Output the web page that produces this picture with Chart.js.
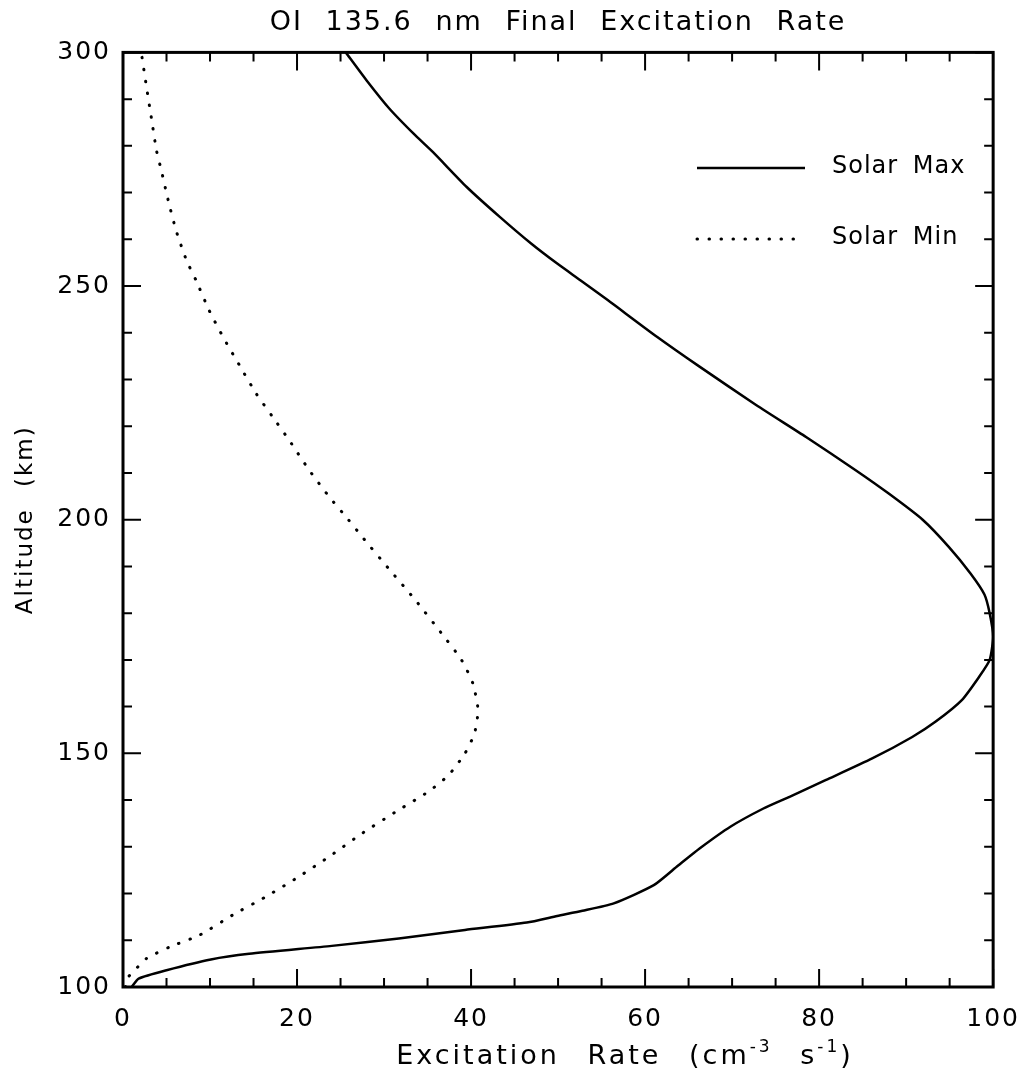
<!DOCTYPE html>
<html>
<head>
<meta charset="utf-8">
<script src="https://cdn.jsdelivr.net/npm/chart.js@4.4.1/dist/chart.umd.min.js"></script>
<style>
  body { margin: 0; background: #fff; }
  canvas { display: block; }
</style>
</head>
<body>
<canvas id="rate" width="1034" height="1073"></canvas>
<script>
// OI 135.6 nm final excitation rate vs altitude, solar max / solar min

var maxAltitude = [100, 101.8, 103.6, 105.9, 107.1, 108.8, 110.4, 112.2, 113.8, 115.2,
  116.3, 117.9, 121.8, 126, 129.7, 134.3, 138.2, 140.7, 144.3, 148.9,
  153.5, 156.8, 161.4, 166.4, 170, 175, 180, 184, 188.5, 194.2,
  200, 205.6, 210.6, 217.7, 224.5, 232.7, 239.1, 247, 251.2, 254.8,
  259.1, 264.8, 271.2, 278.7, 282.6, 288, 294, 300];
var maxRate = [1.0, 1.8, 5.0, 10.1, 14.5, 24.0, 31.7, 39.3, 46.4, 49.9,
  52.8, 56.4, 61.0, 63.8, 66.3, 69.8, 73.6, 76.6, 80.8, 86.1,
  90.7, 93.4, 96.4, 98.4, 99.6, 100, 99.6, 99.0, 97.4, 94.9,
  91.9, 88.0, 84.2, 78.5, 72.8, 66.3, 61.4, 55.7, 52.6, 49.9,
  46.9, 43.3, 39.5, 35.6, 33.4, 30.6, 28.0, 25.6];

var minAltitude = [100, 101.9, 103.3, 106.1, 108.6, 111.1, 115.4, 119.3, 123.6, 127.9,
  132.9, 137.9, 141.8, 145.3, 150, 154.3, 159.3, 165, 170, 175.7,
  182.8, 189.6, 196.3, 200, 204.9, 210.6, 217, 222, 227, 233,
  239.1, 244.8, 251.2, 255.5, 261.9, 268.3, 274.8, 279, 285.5, 292.6, 300];
var minRate = [0.3, 0.5, 1.2, 2.7, 5.4, 8.8, 12.6, 16.4, 20.2, 23.7,
  27.5, 31.7, 35.1, 37.4, 39.3, 40.4, 40.8, 40.2, 38.9, 36.6,
  33.6, 30.5, 27.5, 25.9, 23.7, 21.4, 19.1, 17.2, 15.3, 13.4,
  11.5, 9.9, 8.4, 7.3, 6.1, 5.2, 4.4, 3.85, 3.3, 2.7, 2.1];

var xMajor = 20, xMinor = 5;
var yMajor = 50, yMinor = 10;

var FONT = 'DejaVu Sans';

function toPoints(xs, ys) {
  return xs.map(function (x, i) { return { x: x, y: ys[i] }; });
}

// box around the plot with inward ticks on all four sides
var frameTicks = {
  id: 'frameTicks',
  beforeDraw: function (chart) {
    chart.ctx.letterSpacing = '2px';
    chart.ctx.wordSpacing = '12px';
  },
  afterDatasetsDraw: function (chart) {
    var ctx = chart.ctx, a = chart.chartArea;
    var sx = chart.scales.x, sy = chart.scales.y;
    var v, p, len;
    ctx.save();
    ctx.strokeStyle = '#000';
    ctx.lineWidth = 3;
    ctx.strokeRect(a.left, a.top, a.right - a.left, a.bottom - a.top);
    ctx.lineWidth = 2;
    ctx.beginPath();
    for (v = sx.min; v <= sx.max; v += xMinor) {
      p = sx.getPixelForValue(v);
      len = v % xMajor === 0 ? 18 : 9;
      ctx.moveTo(p, a.bottom); ctx.lineTo(p, a.bottom - len);
      ctx.moveTo(p, a.top); ctx.lineTo(p, a.top + len);
    }
    for (v = sy.min; v <= sy.max; v += yMinor) {
      p = sy.getPixelForValue(v);
      len = v % yMajor === 0 ? 18 : 9;
      ctx.moveTo(a.left, p); ctx.lineTo(a.left + len, p);
      ctx.moveTo(a.right, p); ctx.lineTo(a.right - len, p);
    }
    ctx.stroke();
    ctx.restore();
  }
};

// legend inside the plot and the x title with superscripts
var labelsPlugin = {
  id: 'labelsPlugin',
  afterDraw: function (chart) {
    var ctx = chart.ctx;
    ctx.save();
    ctx.fillStyle = '#000';
    ctx.strokeStyle = '#000';
    ctx.textBaseline = 'alphabetic';

    // legend
    ctx.letterSpacing = '1px';
    ctx.wordSpacing = '6px';
    ctx.font = '24px "' + FONT + '"';
    chart.data.datasets.forEach(function (ds, i) {
      var y = 168 + i * 71;
      ctx.lineWidth = ds.borderWidth;
      ctx.lineCap = ds.borderCapStyle || 'butt';
      ctx.setLineDash(ds.borderDash || []);
      ctx.beginPath();
      ctx.moveTo(697, y);
      ctx.lineTo(805, y);
      ctx.stroke();
      ctx.fillText(ds.label, 832, y + 5);
    });
    ctx.setLineDash([]);

    // x axis title
    var parts = [
      ['Excitation Rate (cm', false], ['-3', true], [' s', false], ['-1', true], [')', false]
    ];
    ctx.letterSpacing = '3px';
    ctx.wordSpacing = '16px';
    var big = '27px "' + FONT + '"', small = '17px "' + FONT + '"';
    var total = 0;
    parts.forEach(function (pt) {
      ctx.font = pt[1] ? small : big;
      total += ctx.measureText(pt[0]).width;
    });
    var x = 625 - total / 2, base = 1064;
    parts.forEach(function (pt) {
      ctx.font = pt[1] ? small : big;
      ctx.fillText(pt[0], x, pt[1] ? base - 12 : base);
      x += ctx.measureText(pt[0]).width;
    });
    ctx.restore();
  }
};

new Chart(document.getElementById('rate').getContext('2d'), {
  type: 'scatter',
  data: {
    datasets: [
      {
        label: 'Solar Max',
        data: toPoints(maxRate, maxAltitude),
        showLine: true,
        borderColor: '#000',
        borderWidth: 2.5,
        pointRadius: 0,
        tension: 0.2
      },
      {
        label: 'Solar Min',
        data: toPoints(minRate, minAltitude),
        showLine: true,
        borderColor: '#000',
        borderWidth: 3,
        borderDash: [0.5, 11.5],
        borderCapStyle: 'round',
        pointRadius: 0,
        tension: 0.2
      }
    ]
  },
  options: {
    responsive: false,
    animation: false,
    layout: { padding: { left: 0, right: 36, top: 0, bottom: 0 } },
    plugins: {
      legend: { display: false },
      tooltip: { enabled: false },
      title: {
        display: true,
        fullSize: false,
        text: 'OI 135.6 nm Final Excitation Rate',
        color: '#000',
        font: { family: FONT, size: 27, weight: 'normal' },
        padding: { top: 7, bottom: 13 }
      }
    },
    scales: {
      x: {
        type: 'linear',
        min: 0,
        max: 100,
        grid: { display: false, drawTicks: false },
        border: { display: false },
        ticks: {
          stepSize: xMajor,
          autoSkip: false,
          maxRotation: 0,
          color: '#000',
          padding: 17,
          font: { family: FONT, size: 25 }
        },
        afterFit: function (s) { s.height = 86; }
      },
      y: {
        type: 'linear',
        min: 100,
        max: 300,
        grid: { display: false, drawTicks: false },
        border: { display: false },
        ticks: {
          stepSize: yMajor,
          autoSkip: false,
          color: '#000',
          padding: 12,
          font: { family: FONT, size: 25 }
        },
        title: {
          display: true,
          text: 'Altitude (km)',
          color: '#000',
          font: { family: FONT, size: 23 },
          padding: { top: 12, bottom: 0 }
        },
        afterFit: function (s) { s.width = 123; }
      }
    }
  },
  plugins: [frameTicks, labelsPlugin]
});
</script>
</body>
</html>
